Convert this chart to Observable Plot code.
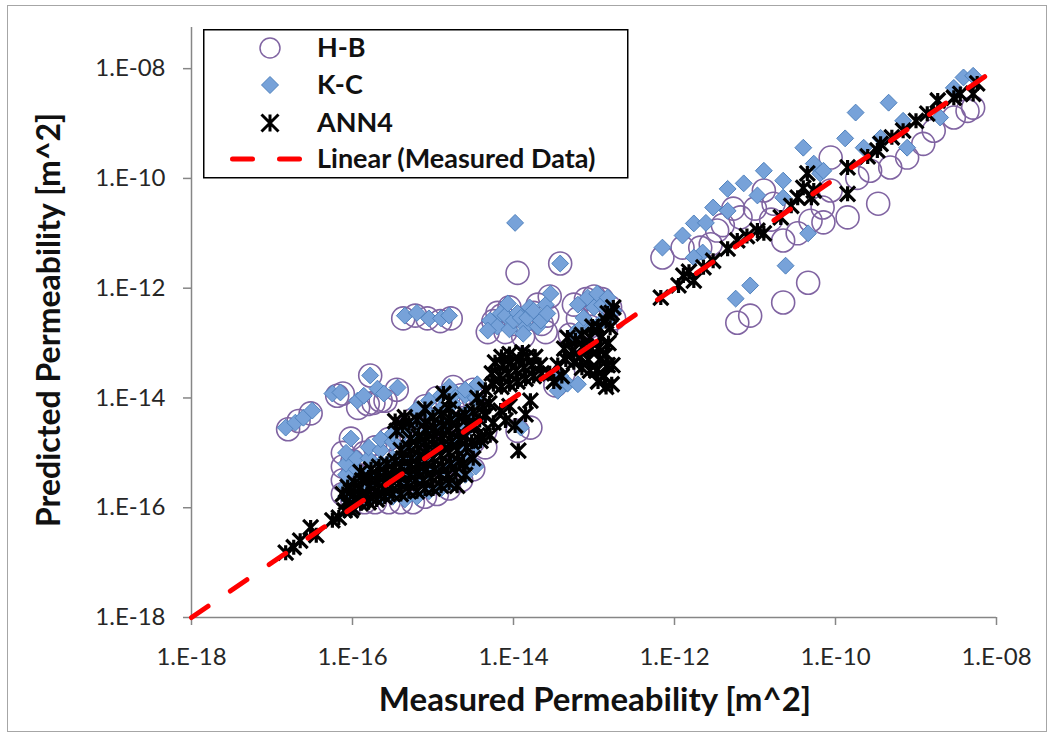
<!DOCTYPE html>
<html>
<head>
<meta charset="utf-8">
<script src="https://cdn.jsdelivr.net/npm/d3@7"></script>
<script src="https://cdn.jsdelivr.net/npm/@observablehq/plot@0.6"></script>
<style>
  body { margin: 0; background: #fff; }
  #wrap { position: relative; width: 1053px; height: 736px; overflow: hidden; font-family: Lato, "Open Sans", sans-serif; background: #fff; }
  #frame { position: absolute; left: 7px; top: 5px; width: 1040px; height: 727px; border: 1px solid #a6a6a6; box-sizing: border-box; }
  #chart { position: absolute; left: 0; top: 0; }
  .title { position: absolute; font-weight: 700; color: #111; white-space: nowrap; }
  #ytitle { left: 47px; top: 320px; font-size: 32px; transform: translate(-50%, -50%) rotate(-90deg); }
  #xtitle { left: 595px; top: 698px; font-size: 33px; transform: translate(-50%, -50%); }
  #legend { position: absolute; left: 203px; top: 29px; }
</style>
</head>
<body>
<div id="wrap">
  <div id="frame"></div>
  <div id="chart"></div>
  <div id="ytitle" class="title">Predicted Permeability [m^2]</div>
  <div id="xtitle" class="title">Measured Permeability [m^2]</div>
  <div id="legend"></div>
</div>
<script>
// ---------------- DATA (log10 of permeability in m^2: [measured, predicted]) ----------------
const seriesNames = ["H-B", "K-C", "ANN4", "Linear (Measured Data)"];
const tickExponents = [-18, -16, -14, -12, -10, -8];
const tickLabels = ["1.E-18", "1.E-16", "1.E-14", "1.E-12", "1.E-10", "1.E-08"];
const trendMeasured = [1e-18, 1e-8];
const trendPredicted = [1e-18, 1e-8];

const hbLog = [
  [-16.8,-14.57],[-16.67,-14.42],[-16.52,-14.28],[-16.19,-13.96],[-16.12,-13.92],[-15.93,-14.18],[-15.81,-14.11],
  [-15.74,-14.09],[-15.65,-14.05],[-15.59,-14.05],[-15.78,-13.59],[-15.45,-13.85],[-16.02,-14.74],
  [-16.12,-15.75],[-16.12,-15.5],[-16.12,-15.25],[-16.12,-15.0],
  [-16.0,-15.9],[-16.0,-15.65],[-16.0,-15.4],[-16.0,-15.15],
  [-15.85,-15.9],[-15.85,-15.45],[-15.85,-15.0],
  [-15.72,-15.9],[-15.72,-15.6],[-15.72,-15.25],[-15.72,-14.9],
  [-15.55,-15.9],[-15.55,-15.35],[-15.55,-14.75],
  [-15.4,-15.9],[-15.4,-15.55],[-15.4,-15.0],[-15.4,-14.6],
  [-15.25,-15.9],[-15.25,-15.3],[-15.25,-14.9],[-15.25,-14.4],
  [-15.1,-15.8],[-15.1,-15.4],[-15.1,-14.7],[-15.1,-14.15],
  [-14.95,-15.75],[-14.95,-15.1],[-14.95,-14.5],[-14.95,-14.0],
  [-14.8,-15.65],[-14.8,-15.3],[-14.8,-14.7],[-14.8,-14.2],[-14.8,-13.95],
  [-14.65,-15.5],[-14.65,-15.0],[-14.65,-14.45],[-14.65,-13.95],
  [-14.5,-15.3],[-14.5,-14.8],[-14.5,-14.3],[-14.5,-14.0],
  [-14.35,-14.9],[-14.35,-14.6],
  [-15.37,-12.55],[-15.22,-12.5],[-15.07,-12.55],[-14.91,-12.6],[-14.78,-12.55],
  [-14.32,-12.8],[-14.25,-12.6],[-14.2,-12.45],[-14.15,-12.5],[-14.1,-12.8],[-14.05,-12.35],[-14.0,-12.65],[-13.9,-12.6],
  [-13.8,-12.55],[-13.75,-12.45],[-13.7,-12.3],[-13.65,-12.65],[-13.6,-12.8],[-13.58,-12.5],[-13.88,-12.88],
  [-13.55,-12.15],[-13.42,-11.55],[-13.95,-11.72],
  [-13.3,-12.85],[-13.25,-12.3],[-13.2,-12.55],[-13.15,-12.95],[-13.1,-12.2],[-13.0,-12.15],[-12.9,-12.2],
  [-12.85,-12.75],[-12.8,-12.35],[-12.75,-12.55],
  [-13.05,-12.7],[-12.95,-12.45],[-13.38,-13.56],[-13.48,-13.77],[-13.79,-14.54],[-13.95,-14.6],[-14.75,-13.8],[-14.5,-13.85],
  [-12.15,-11.44],[-11.9,-11.26],[-11.68,-11.26],[-11.55,-11.2],[-11.47,-10.95],[-11.4,-10.85],[-11.27,-10.55],
  [-11.18,-10.71],[-11.0,-10.55],[-10.89,-10.22],[-10.8,-10.75],[-10.77,-10.46],[-10.65,-11.13],[-10.47,-11.0],
  [-10.31,-10.77],[-10.16,-10.53],[-10.15,-10.8],[-11.22,-12.63],[-11.06,-12.5],[-10.65,-12.26],[-10.34,-11.9],
  [-10.06,-10.22],[-10.06,-9.62],[-9.85,-10.71],[-9.47,-10.46],[-9.73,-9.99],[-9.57,-9.86],[-9.32,-9.8],
  [-9.11,-9.62],[-8.91,-9.37],[-8.78,-9.13],[-8.53,-8.89],[-8.36,-8.77],[-8.29,-8.71]
];

const kcLog = [
  [-16.83,-14.54],[-16.71,-14.45],[-16.61,-14.36],[-16.5,-14.23],[-16.25,-13.92],[-16.15,-13.9],[-15.94,-14.05],
  [-15.86,-13.96],[-15.78,-13.59],[-15.69,-13.83],[-15.61,-13.92],[-15.44,-13.81],[-16.02,-14.74],
  [-16.08,-15.8],[-16.08,-15.6],[-16.08,-15.4],[-16.08,-15.2],[-16.08,-15.0],
  [-15.95,-15.85],[-15.95,-15.55],[-15.95,-15.3],[-15.95,-15.1],
  [-15.8,-15.85],[-15.8,-15.6],[-15.8,-15.35],[-15.8,-15.1],[-15.8,-14.9],
  [-15.65,-15.8],[-15.65,-15.5],[-15.65,-15.2],[-15.65,-14.95],[-15.65,-14.75],
  [-15.5,-15.8],[-15.5,-15.45],[-15.5,-15.1],[-15.5,-14.8],[-15.5,-14.65],
  [-15.35,-15.85],[-15.35,-15.5],[-15.35,-15.2],[-15.35,-14.9],[-15.35,-14.6],
  [-15.2,-15.8],[-15.2,-15.45],[-15.2,-15.1],[-15.2,-14.75],[-15.2,-14.45],[-15.2,-14.2],
  [-15.05,-15.7],[-15.05,-15.35],[-15.05,-15.0],[-15.05,-14.6],[-15.05,-14.3],[-15.05,-14.05],
  [-14.9,-15.65],[-14.9,-15.3],[-14.9,-14.9],[-14.9,-14.5],[-14.9,-14.2],[-14.9,-13.95],
  [-14.75,-15.55],[-14.75,-15.2],[-14.75,-14.8],[-14.75,-14.4],[-14.75,-14.1],[-14.75,-13.95],
  [-14.6,-15.4],[-14.6,-15.0],[-14.6,-14.6],[-14.6,-14.3],[-14.6,-13.95],
  [-14.47,-15.25],[-14.47,-14.85],[-14.47,-14.4],[-14.47,-14.0],
  [-15.35,-12.5],[-15.2,-12.45],[-15.05,-12.55],[-14.9,-12.55],[-14.8,-12.5],
  [-14.29,-12.59],[-14.2,-12.7],[-14.16,-12.46],[-14.1,-12.5],[-14.07,-12.28],[-14.05,-12.75],[-14.0,-12.59],
  [-13.95,-12.45],[-13.91,-12.54],[-13.85,-12.7],[-13.83,-12.54],[-13.8,-12.35],[-13.75,-12.41],[-13.7,-12.7],
  [-13.66,-12.59],[-13.6,-12.3],[-13.58,-12.46],[-13.88,-12.83],[-14.32,-12.77],[-13.54,-12.1],[-13.42,-11.55],[-13.98,-10.81],
  [-13.2,-12.3],[-13.15,-12.7],[-13.08,-12.17],[-13.0,-12.35],[-12.96,-12.1],[-12.9,-12.3],[-12.9,-12.6],
  [-12.83,-12.17],[-12.8,-12.55],[-12.76,-12.41],[-13.13,-12.54],[-13.01,-12.72],[-13.25,-12.83],
  [-13.33,-13.74],[-13.45,-13.87],[-13.42,-13.6],[-13.2,-13.75],[-13.91,-14.54],[-14.8,-13.8],[-14.6,-13.85],[-14.45,-13.75],
  [-12.15,-11.26],[-11.9,-11.04],[-11.76,-10.82],[-11.61,-10.81],[-11.52,-10.53],[-11.34,-10.59],[-11.34,-10.19],
  [-11.14,-10.09],[-10.89,-9.86],[-10.97,-10.31],[-10.65,-10.04],[-10.65,-10.35],[-10.4,-9.44],[-10.27,-9.73],
  [-10.19,-9.91],[-10.15,-9.86],[-10.34,-11.0],[-10.62,-11.59],[-11.06,-11.95],[-11.24,-12.19],[-11.65,-11.35],
  [-11.76,-11.44],[-9.75,-8.8],[-9.34,-8.62],[-9.88,-9.27],[-9.65,-9.44],[-9.44,-9.26],[-9.16,-8.95],[-9.11,-9.44],
  [-8.7,-8.89],[-8.53,-8.35],[-8.41,-8.16],[-8.29,-8.13]
];

const annLog = [
  [-16.83,-16.82],[-16.73,-16.72],[-16.65,-16.6],[-16.52,-16.36],[-16.45,-16.5],[-16.25,-16.23],[-16.17,-16.18],
  [-16.02,-16.05],[-15.9,-15.92],
  [-16.1,-16.05],[-16.08,-15.9],[-16.12,-15.75],[-16.06,-15.62],
  [-16.0,-16.0],[-15.98,-15.85],[-16.02,-15.7],[-15.97,-15.55],
  [-15.9,-15.8],[-15.92,-15.65],[-15.88,-15.5],[-15.9,-15.35],
  [-15.8,-15.9],[-15.82,-15.75],[-15.78,-15.6],[-15.8,-15.45],[-15.77,-15.3],
  [-15.7,-15.85],[-15.72,-15.7],[-15.68,-15.55],[-15.7,-15.4],[-15.67,-15.25],
  [-15.6,-15.8],[-15.62,-15.65],[-15.58,-15.5],[-15.6,-15.35],[-15.57,-15.2],
  [-15.5,-15.75],[-15.52,-15.6],[-15.48,-15.45],[-15.5,-15.3],[-15.47,-15.15],[-15.45,-14.6],[-15.47,-14.42],
  [-15.4,-15.75],[-15.42,-15.55],[-15.38,-15.4],[-15.4,-15.25],[-15.37,-15.1],[-15.4,-14.95],[-15.38,-14.5],[-15.35,-14.35],
  [-15.3,-15.7],[-15.32,-15.55],[-15.28,-15.4],[-15.3,-15.25],[-15.27,-15.1],[-15.3,-14.9],[-15.28,-14.75],[-15.3,-14.45],
  [-15.2,-15.7],[-15.22,-15.5],[-15.18,-15.35],[-15.2,-15.2],[-15.17,-15.05],[-15.2,-14.85],[-15.18,-14.7],[-15.2,-14.4],
  [-15.1,-15.65],[-15.12,-15.5],[-15.08,-15.3],[-15.1,-15.15],[-15.07,-14.95],[-15.1,-14.8],[-15.08,-14.6],[-15.1,-14.45],[-15.1,-14.2],
  [-15.0,-15.65],[-15.02,-15.45],[-14.98,-15.3],[-15.0,-15.1],[-14.97,-14.9],[-15.0,-14.75],[-14.98,-14.55],[-15.0,-14.35],
  [-14.9,-15.6],[-14.92,-15.4],[-14.88,-15.25],[-14.9,-15.05],[-14.87,-14.85],[-14.9,-14.7],[-14.88,-14.5],[-14.9,-14.3],[-14.87,-13.92],
  [-14.8,-15.55],[-14.82,-15.4],[-14.78,-15.2],[-14.8,-15.0],[-14.77,-14.8],[-14.8,-14.6],[-14.78,-14.4],[-14.8,-14.2],[-14.8,-14.05],
  [-14.7,-15.6],[-14.72,-15.35],[-14.68,-15.15],[-14.7,-14.95],[-14.67,-14.75],[-14.7,-14.55],[-14.68,-14.35],
  [-14.6,-15.4],[-14.62,-15.2],[-14.58,-14.9],[-14.6,-14.7],[-14.57,-14.5],[-14.6,-14.3],
  [-14.5,-15.1],[-14.52,-14.8],[-14.48,-14.5],[-14.5,-14.25],
  [-14.4,-14.7],[-14.42,-14.4],[-14.38,-14.15],
  [-14.53,-14.5],[-14.35,-14.32],[-14.16,-14.23],[-14.1,-14.41],[-13.98,-14.5],[-13.79,-14.05],[-13.94,-14.96],
  [-14.29,-14.68],[-14.41,-14.78],[-14.25,-14.45],[-14.05,-14.15],[-13.85,-14.3],[-14.45,-14.0],[-14.35,-13.85],[-14.3,-14.1],
  [-14.25,-13.75],[-14.27,-13.55],[-14.23,-13.35],
  [-14.15,-13.8],[-14.17,-13.6],[-14.13,-13.4],[-14.15,-13.25],
  [-14.05,-13.75],[-14.07,-13.55],[-14.03,-13.35],[-14.05,-13.2],
  [-13.95,-13.7],[-13.97,-13.5],[-13.93,-13.3],[-13.89,-13.17],
  [-13.85,-13.65],[-13.87,-13.45],[-13.83,-13.25],
  [-13.75,-13.6],[-13.77,-13.4],[-13.73,-13.25],
  [-13.65,-13.55],[-13.67,-13.4],
  [-13.55,-13.55],[-13.45,-13.4],[-13.5,-13.7],[-13.4,-13.6],
  [-13.35,-13.3],[-13.37,-13.1],[-13.33,-12.9],
  [-13.25,-13.35],[-13.27,-13.15],[-13.23,-12.95],
  [-13.15,-13.45],[-13.17,-13.25],[-13.13,-13.05],[-13.15,-12.85],
  [-13.05,-13.5],[-13.07,-13.3],[-13.03,-13.1],[-13.05,-12.9],[-13.02,-12.7],
  [-12.95,-13.7],[-12.97,-13.5],[-12.93,-13.3],[-12.95,-13.1],[-12.92,-12.9],[-12.95,-12.7],
  [-12.85,-13.8],[-12.87,-13.6],[-12.83,-13.4],[-12.85,-13.2],[-12.82,-13.0],[-12.85,-12.6],
  [-12.78,-13.75],[-12.77,-13.4],[-12.78,-12.45],[-12.76,-12.35],[-12.83,-12.46],[-12.8,-12.72],
  [-12.17,-12.17],[-11.95,-11.95],[-11.89,-11.77],[-11.82,-11.7],[-11.76,-11.86],[-11.64,-11.62],[-11.52,-11.5],
  [-11.34,-11.28],[-11.22,-11.13],[-11.1,-11.05],[-10.97,-10.95],[-10.89,-11.0],[-10.68,-10.71],[-10.55,-10.5],
  [-10.47,-10.35],[-10.4,-10.17],[-10.35,-9.91],[-10.3,-10.35],[-10.27,-10.22],[-9.85,-9.8],[-9.85,-10.28],
  [-9.6,-9.6],[-9.48,-9.49],[-9.44,-9.37],[-9.3,-9.25],[-9.16,-9.13],[-9.0,-8.95],[-8.86,-8.82],[-8.73,-8.58],
  [-8.53,-8.53],[-8.45,-8.46],[-8.24,-8.27],[-8.29,-8.46]
];

// ---------------- BUILD ----------------
const toPts = arr => arr.map(([a, b]) => ({x: 10 ** a, y: 10 ** b}));
const hb = toPts(hbLog), kc = toPts(kcLog), ann = toPts(annLog);
const trend = trendMeasured.map((m, i) => ({x: m, y: trendPredicted[i]}));
const tickValues = tickExponents.map(e => 10 ** e);
const labelOf = Object.fromEntries(tickExponents.map((e, i) => [e, tickLabels[i]]));
const fmt = d => labelOf[Math.round(Math.log10(d))];

const starSymbol = {
  draw(context, size) {
    const s = Math.sqrt(size / Math.PI);
    context.moveTo(0, -s); context.lineTo(0, s);
    context.moveTo(-s, -s); context.lineTo(s, s);
    context.moveTo(s, -s); context.lineTo(-s, s);
  }
};

const axisGray = "#868686";
const plot = Plot.plot({
  width: 1053, height: 736,
  marginLeft: 191, marginRight: 57, marginTop: 27, marginBottom: 119,
  x: {type: "log", domain: [1e-18, 1e-8], label: null},
  y: {type: "log", domain: [1e-18, 10 ** -7.25], label: null},
  style: {fontFamily: "Lato, 'Open Sans', sans-serif", background: "transparent", overflow: "visible"},
  marks: [
    Plot.ruleX([1e-18], {stroke: axisGray, strokeWidth: 1.5}),
    Plot.ruleY([1e-18], {stroke: axisGray, strokeWidth: 1.5}),
    Plot.axisX(tickValues, {tickSize: 8, tickPadding: 22, stroke: axisGray, strokeWidth: 1.5, fill: "#262626", fontSize: 24, tickFormat: fmt, label: null}),
    Plot.axisY(tickValues, {tickSize: 8, tickPadding: 18, stroke: axisGray, strokeWidth: 1.5, fill: "#262626", fontSize: 24, tickFormat: fmt, label: null}),
    Plot.dot(hb, {x: "x", y: "y", r: 11.5, fill: "none", stroke: "#8064a2", strokeWidth: 1.6}),
    Plot.dot(kc, {x: "x", y: "y", symbol: "diamond2", r: 7.6, fill: "#77a2d9", stroke: "#4f81bd", strokeWidth: 1}),
    Plot.dot(ann, {x: "x", y: "y", symbol: starSymbol, r: 7.5, fill: "none", stroke: "#000", strokeWidth: 3.2}),
    Plot.line(trend, {x: "x", y: "y", stroke: "#ff0000", strokeWidth: 5, strokeDasharray: "20,27", strokeLinecap: "round"})
  ]
});
document.getElementById("chart").appendChild(plot);

// ---------------- LEGEND ----------------
const lg = d3.select("#legend").append("svg").attr("width", 426).attr("height", 150)
  .style("font-family", "Lato, 'Open Sans', sans-serif");
lg.append("rect").attr("x", 0.75).attr("y", 0.75).attr("width", 424).attr("height", 148)
  .attr("fill", "#fff").attr("stroke", "#000").attr("stroke-width", 1.5);
const rowsY = [19, 56, 94, 130];
const sx = 67;
lg.append("circle").attr("cx", sx).attr("cy", rowsY[0]).attr("r", 10).attr("fill", "none")
  .attr("stroke", "#8064a2").attr("stroke-width", 1.5);
lg.append("path").attr("d", `M${sx},${rowsY[1]-8.5}L${sx+8.5},${rowsY[1]}L${sx},${rowsY[1]+8.5}L${sx-8.5},${rowsY[1]}Z`)
  .attr("fill", "#77a2d9").attr("stroke", "#4f81bd");
lg.append("path").attr("d", `M${sx},${rowsY[2]-8.5}L${sx},${rowsY[2]+8.5}M${sx-8.5},${rowsY[2]-8.5}L${sx+8.5},${rowsY[2]+8.5}M${sx+8.5},${rowsY[2]-8.5}L${sx-8.5},${rowsY[2]+8.5}`)
  .attr("stroke", "#000").attr("stroke-width", 3).attr("fill", "none");
lg.append("line").attr("x1", 29.5).attr("x2", 96.5).attr("y1", rowsY[3]).attr("y2", rowsY[3])
  .attr("stroke", "#ff0000").attr("stroke-width", 5).attr("stroke-dasharray", "20,27").attr("stroke-linecap", "round");
lg.selectAll("text.lbl").data(seriesNames).join("text").attr("class", "lbl")
  .attr("x", 114).attr("y", (d, i) => rowsY[i]).attr("dy", "0.35em")
  .attr("font-size", 27).attr("font-weight", 700).attr("fill", "#111").text(d => d);
</script>
</body>
</html>
